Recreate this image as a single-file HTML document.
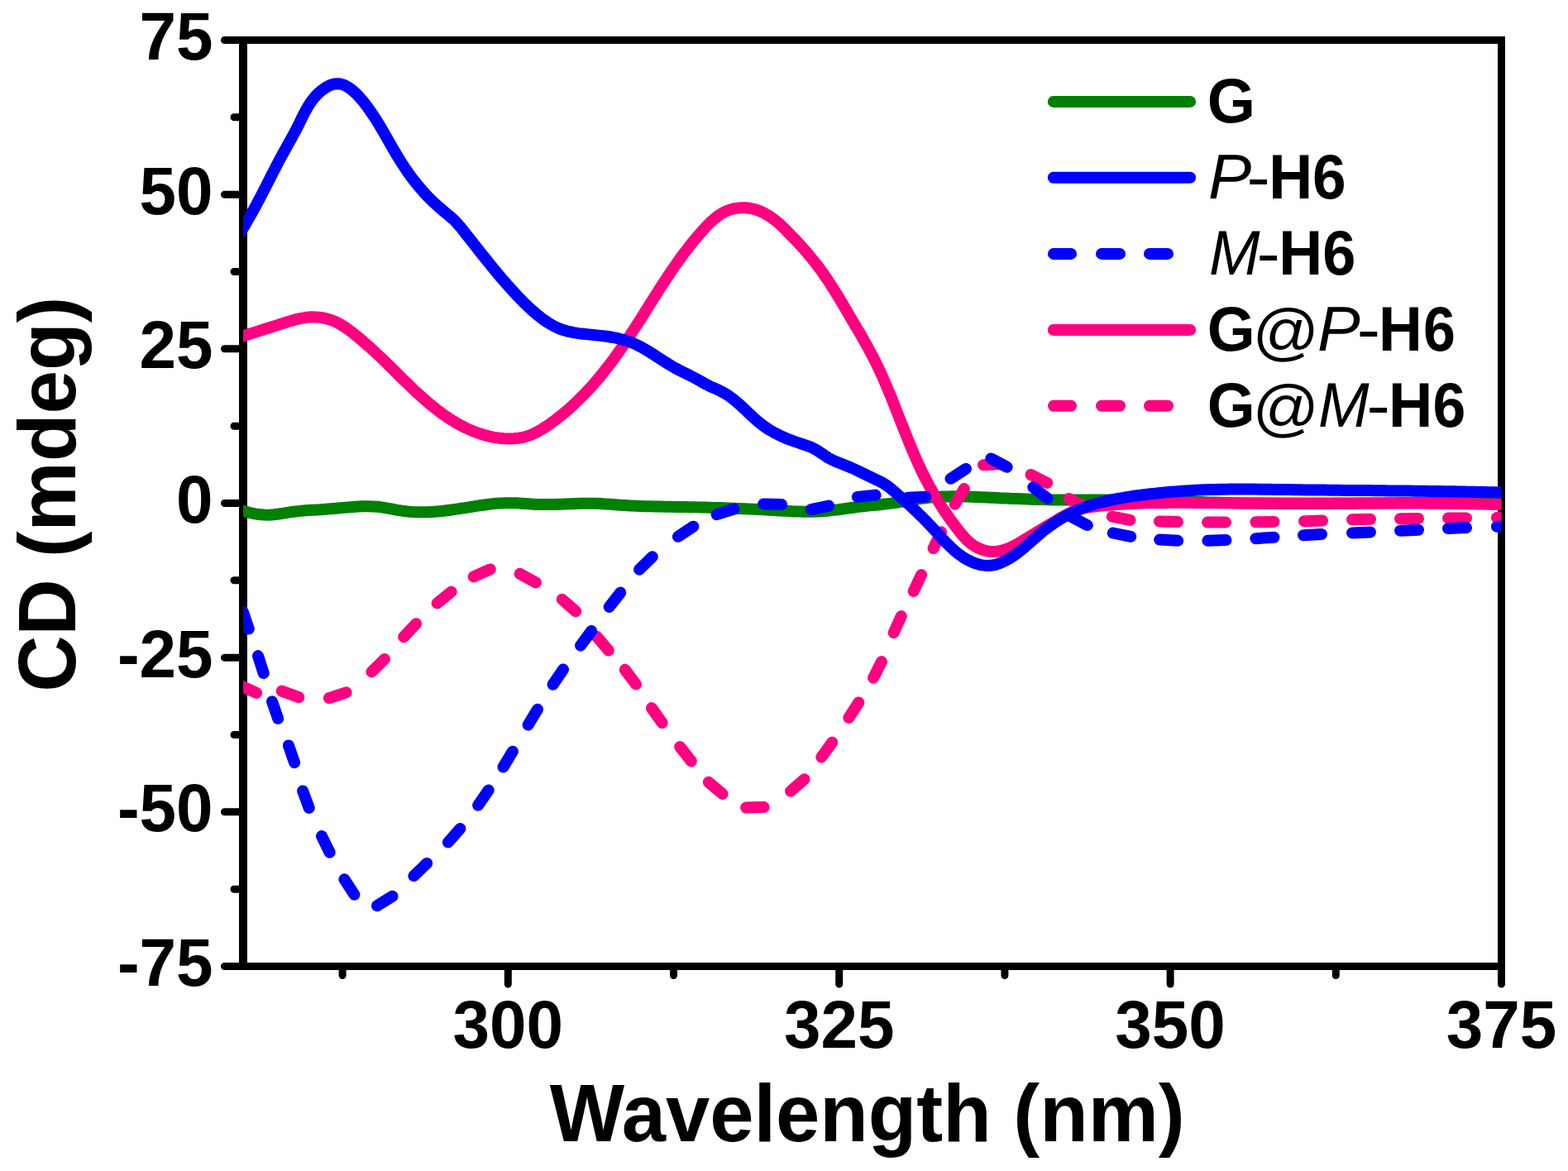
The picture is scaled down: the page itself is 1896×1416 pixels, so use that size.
<!DOCTYPE html>
<html><head><meta charset="utf-8"><title>CD spectra</title>
<style>html,body{margin:0;padding:0;background:#fff;}svg{display:block;}</style>
</head><body>
<svg width="1896" height="1416" viewBox="0 0 1896 1416"><rect x="294.0" y="48.5" width="1521.5" height="1120.0" stroke="#000" stroke-width="9" fill="none"/>
<path d="M294.0,44.0V1173.0" stroke="#000" stroke-width="10"/>
<path d="M271.5,48.5H294.0 M283.0,141.8H294.0 M271.5,235.2H294.0 M283.0,328.5H294.0 M271.5,421.8H294.0 M283.0,515.2H294.0 M271.5,608.5H294.0 M283.0,701.8H294.0 M271.5,795.2H294.0 M283.0,888.5H294.0 M271.5,981.8H294.0 M283.0,1075.2H294.0 M271.5,1168.5H294.0 M414.1,1168.5V1179.5 M614.3,1168.5V1190.0 M814.5,1168.5V1179.5 M1014.7,1168.5V1190.0 M1214.9,1168.5V1179.5 M1415.1,1168.5V1190.0 M1615.3,1168.5V1179.5 M1815.5,1168.5V1190.0" stroke="#000" stroke-width="9" stroke-linecap="round" fill="none"/>
<defs><clipPath id="c"><rect x="294.0" y="0" width="1521.5" height="1416"/></clipPath></defs>
<g clip-path="url(#c)" fill="none" stroke-width="14" stroke-linejoin="round" stroke-linecap="round">
<path d="M284.0,614.9 L289.8,616.5 L295.5,618.2 L301.3,619.8 L307.2,621.1 L313.1,622.1 L319.1,622.6 L325.1,622.7 L331.1,622.3 L337.1,621.5 L343.0,620.6 L349.0,619.6 L354.9,618.8 L360.9,618.1 L366.9,617.5 L372.8,617.1 L378.8,616.7 L384.8,616.4 L390.8,616.0 L396.8,615.6 L402.8,615.1 L408.8,614.5 L414.8,613.9 L420.8,613.4 L426.8,612.9 L432.7,612.5 L438.8,612.2 L444.8,612.2 L450.8,612.4 L456.8,612.8 L462.7,613.6 L468.6,614.6 L474.5,615.7 L480.4,616.8 L486.4,617.7 L492.4,618.4 L498.3,618.9 L504.4,619.2 L510.4,619.3 L516.4,619.2 L522.4,618.9 L528.4,618.5 L534.3,618.0 L540.3,617.3 L546.3,616.5 L552.2,615.6 L558.2,614.7 L564.1,613.8 L570.0,612.8 L576.0,611.9 L581.9,611.0 L587.9,610.2 L593.8,609.4 L599.8,608.8 L605.8,608.4 L611.8,608.2 L617.8,608.2 L623.8,608.3 L629.8,608.7 L635.8,609.1 L641.8,609.5 L647.8,609.9 L653.8,610.1 L659.8,610.1 L665.8,610.1 L671.8,609.9 L677.8,609.7 L683.8,609.5 L689.8,609.3 L695.8,609.0 L701.9,608.8 L707.9,608.7 L713.9,608.7 L719.9,608.8 L725.9,609.0 L731.9,609.4 L737.9,609.8 L743.9,610.3 L749.9,610.7 L755.9,611.1 L761.9,611.5 L767.9,611.8 L773.9,612.0 L779.9,612.2 L785.9,612.3 L791.9,612.5 L797.9,612.6 L803.9,612.7 L809.9,612.8 L815.9,612.9 L821.9,613.0 L827.9,613.1 L833.9,613.2 L839.9,613.3 L845.9,613.4 L852.0,613.6 L858.0,613.7 L864.0,613.9 L870.0,614.1 L876.0,614.3 L882.0,614.5 L888.0,614.7 L894.0,614.9 L900.0,615.2 L906.0,615.4 L912.0,615.7 L918.0,616.0 L924.0,616.3 L930.0,616.7 L936.0,617.0 L942.0,617.4 L948.0,617.7 L954.0,618.1 L960.0,618.4 L966.0,618.6 L972.0,618.8 L978.0,618.8 L984.0,618.7 L990.0,618.5 L996.0,618.2 L1002.0,617.6 L1008.0,616.9 L1013.9,616.2 L1019.9,615.3 L1025.8,614.5 L1031.8,613.7 L1037.8,612.9 L1043.7,612.2 L1049.7,611.6 L1055.7,611.1 L1061.7,610.5 L1067.6,609.8 L1073.6,609.1 L1079.6,608.4 L1085.5,607.5 L1091.4,606.5 L1097.4,605.5 L1103.3,604.5 L1109.2,603.6 L1115.2,602.7 L1121.1,602.0 L1127.1,601.4 L1133.1,600.9 L1139.1,600.6 L1145.1,600.4 L1151.1,600.3 L1157.1,600.4 L1163.1,600.5 L1169.2,600.6 L1175.2,600.8 L1181.2,601.1 L1187.2,601.3 L1193.2,601.6 L1199.2,601.8 L1205.2,602.1 L1211.2,602.4 L1217.2,602.6 L1223.2,602.9 L1229.2,603.1 L1235.2,603.3 L1241.2,603.5 L1247.2,603.7 L1253.2,603.9 L1259.2,604.1 L1265.2,604.2 L1271.2,604.4 L1277.2,604.5 L1283.3,604.5 L1289.3,604.6 L1295.3,604.6 L1301.3,604.6 L1307.3,604.6 L1313.3,604.5 L1319.3,604.5 L1325.3,604.5 L1331.3,604.4 L1337.3,604.4 L1343.3,604.5 L1349.3,604.5 L1355.4,604.5 L1361.4,604.6 L1367.4,604.7 L1373.4,604.8 L1379.4,604.9 L1385.4,605.1 L1391.4,605.2 L1397.4,605.4 L1403.4,605.6 L1409.4,605.7 L1415.4,605.9 L1421.4,606.1 L1427.4,606.3 L1433.4,606.5 L1439.5,606.7 L1445.5,606.9 L1451.5,607.1 L1457.5,607.2 L1463.5,607.4 L1469.5,607.6 L1475.5,607.7 L1481.5,607.9 L1487.5,608.0 L1493.5,608.2 L1499.5,608.3 L1505.5,608.4 L1511.5,608.5 L1517.5,608.6 L1523.6,608.6 L1529.6,608.7 L1535.6,608.8 L1541.6,608.8 L1547.6,608.9 L1553.6,608.9 L1559.6,608.9 L1565.6,608.9 L1571.6,608.9 L1577.6,608.9 L1583.6,608.9 L1589.7,608.9 L1595.7,608.9 L1601.7,608.9 L1607.7,608.9 L1613.7,608.8 L1619.7,608.8 L1625.7,608.7 L1631.7,608.7 L1637.7,608.7 L1643.7,608.6 L1649.7,608.5 L1655.7,608.5 L1661.8,608.4 L1667.8,608.4 L1673.8,608.3 L1679.8,608.2 L1685.8,608.2 L1691.8,608.1 L1697.8,608.0 L1703.8,608.0 L1709.8,607.9 L1715.8,607.8 L1721.8,607.8 L1727.9,607.7 L1733.9,607.6 L1739.9,607.6 L1745.9,607.5 L1751.9,607.4 L1757.9,607.4 L1763.9,607.3 L1769.9,607.3 L1775.9,607.2 L1781.9,607.2 L1787.9,607.1 L1793.9,607.1 L1800.0,607.1 L1806.0,607.0 L1812.0,607.0 L1818.0,607.0 L1824.0,607.0 L1830.0,607.0" stroke="#008000"/>
<path d="M290.1,828.7L310.1,837.9 M340.7,835.6L361.3,843.1 M397.9,844.1L418.6,837.3 M449.4,812.4L465.0,796.9 M488.1,770.2L503.1,754.2 M528.6,729.4L545.7,715.6 M572.7,697.4L592.7,688.4 M628.6,693.8L647.9,704.4 M679.7,724.7L696.2,739.2 M721.6,769.7L735.8,786.5 M755.7,809.8L768.9,827.4 M787.9,856.1L800.6,874.0 M822.2,903.1L835.8,920.4 M856.8,945.8L873.6,960.0 M902.1,976.6L923.6,976.0 M956.0,956.7L972.6,942.3 M993.3,915.5L1006.2,897.7 M1026.4,867.9L1038.3,849.4 M1056.1,819.7L1065.9,800.1 M1080.6,765.1L1089.7,745.1 M1104.6,715.0L1114.0,695.1 M1128.6,663.1L1138.1,643.3 M1154.7,609.8L1165.9,590.9 M1189.0,562.2L1210.1,561.3 M1246.5,574.0L1266.1,583.9 M1292.5,603.0L1312.0,613.1 M1344.8,624.7L1366.4,628.9 M1401.9,630.5L1423.9,631.1 M1460.0,631.6L1482.0,631.6 M1518.4,631.3L1540.4,630.9 M1577.0,630.2L1599.0,629.6 M1635.0,628.3L1657.0,627.8 M1693.0,627.3L1715.0,627.1 M1751.0,626.6L1773.0,626.4 M1809.9,626.0L1831.9,625.8" stroke="#FF0080"/>
<path d="M284.0,409.6 L289.7,407.7 L295.4,405.9 L301.1,404.0 L306.9,402.2 L312.6,400.4 L318.3,398.5 L324.1,396.7 L329.8,394.9 L335.5,393.1 L341.2,391.3 L347.0,389.4 L352.7,387.7 L358.5,386.1 L364.4,384.8 L370.3,383.8 L376.3,383.3 L382.3,383.4 L388.3,384.0 L394.2,385.1 L399.9,386.8 L405.5,389.1 L410.9,391.8 L416.0,394.9 L421.0,398.3 L425.8,401.9 L430.5,405.7 L435.1,409.5 L439.7,413.4 L444.2,417.4 L448.7,421.3 L453.1,425.4 L457.5,429.5 L461.9,433.6 L466.2,437.8 L470.5,442.0 L474.8,446.2 L479.1,450.5 L483.3,454.7 L487.6,458.9 L491.9,463.1 L496.2,467.3 L500.5,471.5 L504.9,475.6 L509.4,479.6 L513.9,483.6 L518.4,487.5 L523.1,491.3 L527.8,495.1 L532.6,498.7 L537.5,502.2 L542.5,505.6 L547.5,508.8 L552.7,511.9 L558.0,514.8 L563.3,517.5 L568.8,520.0 L574.3,522.2 L580.0,524.3 L585.7,526.1 L591.6,527.6 L597.4,528.8 L603.4,529.7 L609.4,530.3 L615.4,530.5 L621.4,530.3 L627.3,529.7 L633.3,528.6 L639.0,526.9 L644.6,524.7 L650.0,522.0 L655.2,519.0 L660.3,515.8 L665.2,512.4 L670.1,508.8 L674.9,505.2 L679.6,501.5 L684.2,497.6 L688.7,493.7 L693.2,489.6 L697.5,485.5 L701.8,481.3 L706.1,477.0 L710.2,472.7 L714.3,468.3 L718.3,463.8 L722.2,459.2 L726.1,454.6 L729.9,449.9 L733.6,445.2 L737.3,440.5 L740.9,435.7 L744.4,430.8 L747.9,425.9 L751.4,421.0 L754.8,416.1 L758.1,411.1 L761.5,406.1 L764.7,401.0 L768.0,396.0 L771.3,390.9 L774.5,385.9 L777.7,380.8 L780.9,375.7 L784.1,370.6 L787.3,365.5 L790.5,360.4 L793.7,355.4 L797.0,350.3 L800.2,345.3 L803.5,340.2 L806.8,335.2 L810.2,330.2 L813.5,325.2 L817.0,320.3 L820.4,315.4 L824.0,310.5 L827.5,305.7 L831.2,300.9 L834.9,296.2 L838.6,291.5 L842.5,286.9 L846.4,282.3 L850.4,277.8 L854.4,273.4 L858.7,269.1 L863.1,265.1 L867.8,261.3 L872.8,258.0 L878.2,255.3 L883.8,253.2 L889.7,251.9 L895.6,251.3 L901.7,251.3 L907.6,252.0 L913.5,253.4 L919.1,255.4 L924.6,257.9 L929.7,261.0 L934.7,264.4 L939.4,268.1 L943.9,272.1 L948.3,276.2 L952.5,280.5 L956.7,284.8 L960.9,289.1 L965.0,293.5 L969.0,297.9 L973.0,302.4 L977.0,307.0 L980.8,311.6 L984.6,316.3 L988.3,321.0 L991.9,325.8 L995.4,330.7 L998.8,335.7 L1002.2,340.6 L1005.4,345.7 L1008.7,350.8 L1011.8,355.9 L1014.9,361.0 L1018.0,366.2 L1021.1,371.3 L1024.2,376.5 L1027.2,381.7 L1030.2,386.9 L1033.3,392.1 L1036.3,397.2 L1039.4,402.4 L1042.4,407.6 L1045.3,412.9 L1048.3,418.1 L1051.2,423.4 L1054.0,428.7 L1056.8,434.0 L1059.5,439.4 L1062.1,444.8 L1064.6,450.2 L1067.1,455.7 L1069.5,461.2 L1071.9,466.7 L1074.2,472.3 L1076.5,477.8 L1078.8,483.4 L1081.0,489.0 L1083.2,494.6 L1085.4,500.2 L1087.6,505.8 L1089.8,511.3 L1092.0,516.9 L1094.2,522.5 L1096.5,528.1 L1098.7,533.7 L1101.0,539.2 L1103.3,544.8 L1105.7,550.3 L1108.1,555.8 L1110.6,561.3 L1113.1,566.7 L1115.7,572.2 L1118.4,577.5 L1121.2,582.9 L1124.0,588.2 L1126.9,593.4 L1130.0,598.6 L1133.0,603.8 L1136.2,608.9 L1139.4,613.9 L1142.8,619.0 L1146.2,623.9 L1149.6,628.8 L1153.2,633.7 L1156.8,638.5 L1160.5,643.2 L1164.3,647.8 L1168.4,652.3 L1172.8,656.3 L1177.7,659.9 L1182.9,662.8 L1188.5,665.0 L1194.3,666.5 L1200.3,667.1 L1206.3,666.7 L1212.2,665.5 L1217.9,663.6 L1223.4,661.3 L1228.8,658.6 L1234.0,655.6 L1239.1,652.5 L1244.3,649.3 L1249.4,646.1 L1254.5,643.0 L1259.6,639.9 L1264.8,636.8 L1269.9,633.7 L1275.1,630.7 L1280.3,627.6 L1285.5,624.6 L1290.8,621.7 L1296.2,619.1 L1301.8,616.9 L1307.5,615.2 L1313.4,613.9 L1319.3,613.0 L1325.3,612.2 L1331.3,611.6 L1337.3,611.1 L1343.3,610.6 L1349.2,610.1 L1355.2,609.7 L1361.2,609.3 L1367.2,609.0 L1373.2,608.8 L1379.3,608.5 L1385.3,608.3 L1391.3,608.2 L1397.3,608.0 L1403.3,607.9 L1409.3,607.9 L1415.3,607.8 L1421.3,607.8 L1427.3,607.8 L1433.3,607.8 L1439.4,607.8 L1445.4,607.9 L1451.4,607.9 L1457.4,608.0 L1463.4,608.0 L1469.4,608.1 L1475.4,608.2 L1481.4,608.2 L1487.4,608.3 L1493.4,608.4 L1499.5,608.4 L1505.5,608.5 L1511.5,608.5 L1517.5,608.5 L1523.5,608.6 L1529.5,608.6 L1535.5,608.6 L1541.5,608.6 L1547.5,608.6 L1553.5,608.6 L1559.6,608.6 L1565.6,608.6 L1571.6,608.6 L1577.6,608.6 L1583.6,608.6 L1589.6,608.6 L1595.6,608.6 L1601.6,608.6 L1607.6,608.6 L1613.6,608.6 L1619.7,608.6 L1625.7,608.5 L1631.7,608.5 L1637.7,608.5 L1643.7,608.5 L1649.7,608.5 L1655.7,608.5 L1661.7,608.5 L1667.7,608.5 L1673.8,608.5 L1679.8,608.5 L1685.8,608.5 L1691.8,608.5 L1697.8,608.5 L1703.8,608.5 L1709.8,608.6 L1715.8,608.6 L1721.8,608.6 L1727.8,608.7 L1733.9,608.7 L1739.9,608.8 L1745.9,608.8 L1751.9,608.9 L1757.9,608.9 L1763.9,609.0 L1769.9,609.1 L1775.9,609.2 L1781.9,609.3 L1787.9,609.4 L1794.0,609.6 L1800.0,609.7 L1806.0,609.8 L1812.0,610.0 L1818.0,610.1 L1824.0,610.3 L1830.0,610.5" stroke="#FF0080"/>
<path d="M293.7,739.6L300.8,760.4 M312.0,793.1L318.7,814.1 M329.0,848.3L336.2,869.0 M348.9,901.4L356.1,922.2 M366.1,956.4L373.7,977.0 M389.0,1011.1L398.7,1030.8 M416.4,1063.3L428.4,1081.8 M456.0,1095.3L474.5,1083.8 M500.3,1059.2L516.2,1043.9 M541.9,1018.5L556.4,1002.0 M578.1,973.7L590.7,955.6 M608.5,927.5L619.9,908.7 M638.6,876.6L649.9,857.8 M668.6,827.7L681.0,809.5 M702.0,780.7L715.1,763.0 M736.6,734.0L750.2,716.6 M773.0,688.7L788.8,673.3 M819.9,648.8L838.3,636.7 M866.6,622.2L887.5,615.5 M923.1,609.5L945.0,609.9 M980.7,616.1L1002.2,611.6 M1036.8,600.9L1058.6,598.6 M1097.6,601.8L1119.1,600.7 M1149.5,578.8L1167.9,566.9 M1198.3,554.5L1217.6,564.7 M1249.3,589.3L1266.7,602.8 M1295.3,624.9L1314.8,635.1 M1345.7,644.5L1367.2,648.8 M1402.2,652.6L1424.2,653.8 M1460.4,653.7L1482.4,653.1 M1518.4,651.2L1540.4,649.8 M1576.0,647.2L1598.0,645.9 M1635.0,644.4L1657.0,643.4 M1693.0,641.7L1715.0,640.7 M1751.0,639.1L1773.0,638.1 M1809.9,636.7L1831.9,635.9" stroke="#0000FF"/>
<path d="M284.0,291.8 L287.2,286.7 L290.4,281.6 L293.5,276.5 L296.6,271.3 L299.6,266.1 L302.6,260.9 L305.6,255.6 L308.5,250.4 L311.3,245.1 L314.1,239.8 L316.9,234.4 L319.7,229.1 L322.4,223.7 L325.1,218.4 L327.8,213.0 L330.6,207.6 L333.3,202.3 L336.1,196.9 L338.9,191.6 L341.8,186.3 L344.7,181.1 L347.6,175.8 L350.5,170.6 L353.4,165.3 L356.3,160.0 L359.1,154.7 L361.8,149.3 L364.4,143.9 L367.1,138.5 L369.9,133.2 L372.9,128.0 L376.2,122.9 L379.8,118.2 L383.9,113.7 L388.4,109.7 L393.3,106.2 L398.5,103.3 L404.3,101.5 L410.2,101.2 L416.0,102.8 L421.3,105.6 L426.2,109.2 L430.6,113.2 L434.7,117.6 L438.7,122.2 L442.4,126.9 L446.0,131.7 L449.4,136.7 L452.8,141.7 L456.0,146.7 L459.1,151.9 L462.2,157.1 L465.2,162.3 L468.2,167.5 L471.1,172.7 L474.1,177.9 L477.1,183.1 L480.2,188.3 L483.4,193.4 L486.6,198.5 L489.9,203.5 L493.3,208.5 L496.8,213.4 L500.5,218.2 L504.2,222.9 L508.1,227.5 L512.0,232.0 L516.1,236.5 L520.3,240.8 L524.6,244.9 L529.1,249.0 L533.6,252.9 L538.2,256.8 L542.8,260.6 L547.4,264.6 L551.7,268.8 L555.7,273.3 L559.5,277.9 L563.2,282.7 L566.9,287.4 L570.7,292.1 L574.4,296.9 L578.1,301.6 L581.8,306.3 L585.6,311.0 L589.3,315.7 L593.1,320.4 L596.9,325.0 L600.8,329.7 L604.6,334.3 L608.5,338.8 L612.5,343.4 L616.5,347.9 L620.5,352.3 L624.6,356.7 L628.8,361.1 L633.0,365.4 L637.3,369.6 L641.7,373.7 L646.2,377.7 L650.8,381.6 L655.5,385.3 L660.4,388.7 L665.5,391.9 L670.8,394.8 L676.3,397.3 L681.9,399.3 L687.7,400.9 L693.6,402.1 L699.6,403.1 L705.6,403.8 L711.5,404.4 L717.5,405.0 L723.5,405.6 L729.5,406.2 L735.4,407.0 L741.4,408.0 L747.3,409.2 L753.1,410.7 L758.9,412.4 L764.5,414.5 L770.0,417.0 L775.4,419.7 L780.6,422.7 L785.7,425.8 L790.8,429.0 L795.9,432.3 L800.9,435.6 L806.0,438.8 L811.1,442.0 L816.3,445.0 L821.6,447.8 L827.0,450.5 L832.4,453.1 L837.8,455.9 L843.0,458.7 L848.3,461.7 L853.5,464.6 L858.9,467.3 L864.4,469.7 L869.9,472.2 L875.3,474.9 L880.4,478.1 L885.3,481.6 L889.9,485.4 L894.5,489.3 L898.9,493.4 L903.3,497.5 L907.6,501.7 L912.1,505.8 L916.6,509.7 L921.3,513.5 L926.1,517.0 L931.2,520.3 L936.4,523.3 L941.8,526.0 L947.2,528.6 L952.8,530.9 L958.4,533.0 L964.1,535.0 L969.8,536.9 L975.5,538.8 L981.1,540.9 L986.5,543.7 L991.5,546.9 L996.5,550.3 L1001.5,553.6 L1006.8,556.4 L1012.3,558.8 L1017.9,561.0 L1023.6,563.2 L1029.1,565.5 L1034.6,568.0 L1040.0,570.6 L1045.4,573.3 L1050.8,575.9 L1056.2,578.5 L1061.7,581.1 L1067.0,583.8 L1072.2,586.9 L1076.9,590.6 L1081.5,594.5 L1086.0,598.5 L1090.5,602.5 L1095.0,606.5 L1099.5,610.5 L1103.9,614.6 L1108.3,618.7 L1112.6,622.9 L1116.9,627.1 L1121.1,631.4 L1125.2,635.8 L1129.3,640.2 L1133.4,644.6 L1137.4,649.1 L1141.5,653.5 L1145.7,657.8 L1150.0,662.0 L1154.4,666.1 L1159.1,669.9 L1164.0,673.4 L1169.1,676.5 L1174.5,679.2 L1180.1,681.5 L1185.8,683.1 L1191.8,683.9 L1197.8,683.8 L1203.7,682.8 L1209.4,680.9 L1214.9,678.4 L1220.2,675.5 L1225.3,672.3 L1230.2,668.8 L1234.9,665.1 L1239.5,661.3 L1244.1,657.3 L1248.6,653.3 L1253.1,649.3 L1257.6,645.4 L1262.2,641.5 L1267.0,637.9 L1271.9,634.3 L1276.9,631.0 L1282.0,627.8 L1287.2,624.8 L1292.5,622.0 L1297.9,619.3 L1303.4,616.8 L1308.9,614.6 L1314.6,612.5 L1320.3,610.6 L1326.1,608.8 L1331.9,607.3 L1337.7,605.9 L1343.6,604.6 L1349.5,603.4 L1355.4,602.3 L1361.3,601.3 L1367.3,600.4 L1373.2,599.5 L1379.2,598.7 L1385.2,598.0 L1391.1,597.2 L1397.1,596.6 L1403.1,596.0 L1409.1,595.4 L1415.1,594.8 L1421.1,594.4 L1427.1,593.9 L1433.1,593.5 L1439.1,593.2 L1445.1,592.8 L1451.1,592.6 L1457.1,592.3 L1463.1,592.1 L1469.1,591.9 L1475.1,591.8 L1481.1,591.7 L1487.2,591.6 L1493.2,591.6 L1499.2,591.6 L1505.2,591.6 L1511.2,591.6 L1517.2,591.6 L1523.3,591.7 L1529.3,591.7 L1535.3,591.8 L1541.3,591.9 L1547.3,592.0 L1553.3,592.1 L1559.3,592.1 L1565.4,592.2 L1571.4,592.3 L1577.4,592.4 L1583.4,592.4 L1589.4,592.5 L1595.4,592.6 L1601.4,592.6 L1607.5,592.7 L1613.5,592.7 L1619.5,592.8 L1625.5,592.9 L1631.5,592.9 L1637.5,593.0 L1643.6,593.0 L1649.6,593.1 L1655.6,593.1 L1661.6,593.2 L1667.6,593.2 L1673.6,593.3 L1679.6,593.4 L1685.7,593.4 L1691.7,593.5 L1697.7,593.5 L1703.7,593.6 L1709.7,593.7 L1715.7,593.7 L1721.7,593.8 L1727.8,593.9 L1733.8,594.0 L1739.8,594.1 L1745.8,594.2 L1751.8,594.2 L1757.8,594.3 L1763.8,594.4 L1769.9,594.6 L1775.9,594.7 L1781.9,594.8 L1787.9,594.9 L1793.9,595.1 L1799.9,595.2 L1805.9,595.3 L1812.0,595.5 L1818.0,595.7 L1824.0,595.8 L1830.0,596.0" stroke="#0000FF"/>
</g>
<g font-family="Liberation Sans, Arial, sans-serif" font-weight="bold" font-size="80" fill="#000"><text transform="translate(257.5,72.0) scale(1,1.016)" text-anchor="end">75</text><text transform="translate(257.5,258.7) scale(1,1.016)" text-anchor="end">50</text><text transform="translate(257.5,445.3) scale(1,1.016)" text-anchor="end">25</text><text transform="translate(257.5,632.0) scale(1,1.016)" text-anchor="end">0</text><text transform="translate(257.5,818.7) scale(1,1.016)" text-anchor="end">-25</text><text transform="translate(257.5,1005.3) scale(1,1.016)" text-anchor="end">-50</text><text transform="translate(257.5,1192.0) scale(1,1.016)" text-anchor="end">-75</text><text transform="translate(614.3,1267) scale(1,1.016)" text-anchor="middle">300</text><text transform="translate(1014.7,1267) scale(1,1.016)" text-anchor="middle">325</text><text transform="translate(1415.1,1267) scale(1,1.016)" text-anchor="middle">350</text><text transform="translate(1815.5,1267) scale(1,1.016)" text-anchor="middle">375</text></g>
<text transform="translate(664.80,1380) scale(0.9978,1.031)" font-family="Liberation Sans, Arial, sans-serif" font-weight="bold" font-size="96">Wavelength (nm)</text>
<text transform="translate(90.7,836.74) rotate(-90) scale(0.9851,1.028)" font-family="Liberation Sans, Arial, sans-serif" font-weight="bold" font-size="96">CD (mdeg)</text>
<path d="M1273.8,122.9H1439.1" stroke="#008000" stroke-width="14" stroke-linecap="round"/><path d="M1273.8,214.8H1439.1" stroke="#0000FF" stroke-width="14" stroke-linecap="round"/><path d="M1274.0,306.9H1295.0M1332.0,306.9H1354.0M1390.0,306.9H1412.0" stroke="#0000FF" stroke-width="14" stroke-linecap="round"/><path d="M1273.8,398.9H1439.1" stroke="#FF0080" stroke-width="14" stroke-linecap="round"/><path d="M1274.0,490.8H1295.0M1332.0,490.8H1354.0M1390.0,490.8H1412.0" stroke="#FF0080" stroke-width="14" stroke-linecap="round"/>
<text font-family="Liberation Sans, Arial, sans-serif" font-size="76.5" fill="#000"><tspan x="1459.86" y="147.70" textLength="58.26" lengthAdjust="spacingAndGlyphs" font-weight="bold" font-style="normal">G</tspan></text>
<text font-family="Liberation Sans, Arial, sans-serif" font-size="76.5" fill="#000"><tspan x="1460.95" y="240.00" textLength="52.20" lengthAdjust="spacingAndGlyphs" font-weight="normal" font-style="italic">P</tspan><tspan x="1507.57" y="240.00" textLength="28.30" lengthAdjust="spacingAndGlyphs" font-weight="normal" font-style="normal">-</tspan><tspan x="1534.21" y="240.00" textLength="52.92" lengthAdjust="spacingAndGlyphs" font-weight="bold" font-style="normal">H</tspan><tspan x="1586.94" y="240.00" textLength="40.59" lengthAdjust="spacingAndGlyphs" font-weight="bold" font-style="normal">6</tspan></text>
<text font-family="Liberation Sans, Arial, sans-serif" font-size="76.5" fill="#000"><tspan x="1462.07" y="332.00" textLength="61.57" lengthAdjust="spacingAndGlyphs" font-weight="normal" font-style="italic">M</tspan><tspan x="1519.57" y="332.00" textLength="28.30" lengthAdjust="spacingAndGlyphs" font-weight="normal" font-style="normal">-</tspan><tspan x="1546.21" y="332.00" textLength="52.92" lengthAdjust="spacingAndGlyphs" font-weight="bold" font-style="normal">H</tspan><tspan x="1599.17" y="332.00" textLength="40.14" lengthAdjust="spacingAndGlyphs" font-weight="bold" font-style="normal">6</tspan></text>
<text font-family="Liberation Sans, Arial, sans-serif" font-size="76.5" fill="#000"><tspan x="1459.68" y="424.00" textLength="57.92" lengthAdjust="spacingAndGlyphs" font-weight="bold" font-style="normal">G</tspan><tspan x="1514.57" y="427.20" textLength="80.66" lengthAdjust="spacingAndGlyphs" font-weight="normal" font-style="normal">@</tspan><tspan x="1593.07" y="424.00" textLength="51.67" lengthAdjust="spacingAndGlyphs" font-weight="normal" font-style="italic">P</tspan><tspan x="1640.67" y="424.00" textLength="28.30" lengthAdjust="spacingAndGlyphs" font-weight="normal" font-style="normal">-</tspan><tspan x="1667.12" y="424.00" textLength="52.79" lengthAdjust="spacingAndGlyphs" font-weight="bold" font-style="normal">H</tspan><tspan x="1720.96" y="424.00" textLength="38.87" lengthAdjust="spacingAndGlyphs" font-weight="bold" font-style="normal">6</tspan></text>
<text font-family="Liberation Sans, Arial, sans-serif" font-size="76.5" fill="#000"><tspan x="1459.68" y="516.00" textLength="57.92" lengthAdjust="spacingAndGlyphs" font-weight="bold" font-style="normal">G</tspan><tspan x="1514.57" y="519.20" textLength="80.66" lengthAdjust="spacingAndGlyphs" font-weight="normal" font-style="normal">@</tspan><tspan x="1593.97" y="516.00" textLength="61.57" lengthAdjust="spacingAndGlyphs" font-weight="normal" font-style="italic">M</tspan><tspan x="1652.47" y="516.00" textLength="28.30" lengthAdjust="spacingAndGlyphs" font-weight="normal" font-style="normal">-</tspan><tspan x="1678.88" y="516.00" textLength="53.29" lengthAdjust="spacingAndGlyphs" font-weight="bold" font-style="normal">H</tspan><tspan x="1732.39" y="516.00" textLength="39.79" lengthAdjust="spacingAndGlyphs" font-weight="bold" font-style="normal">6</tspan></text></svg>
</body></html>
